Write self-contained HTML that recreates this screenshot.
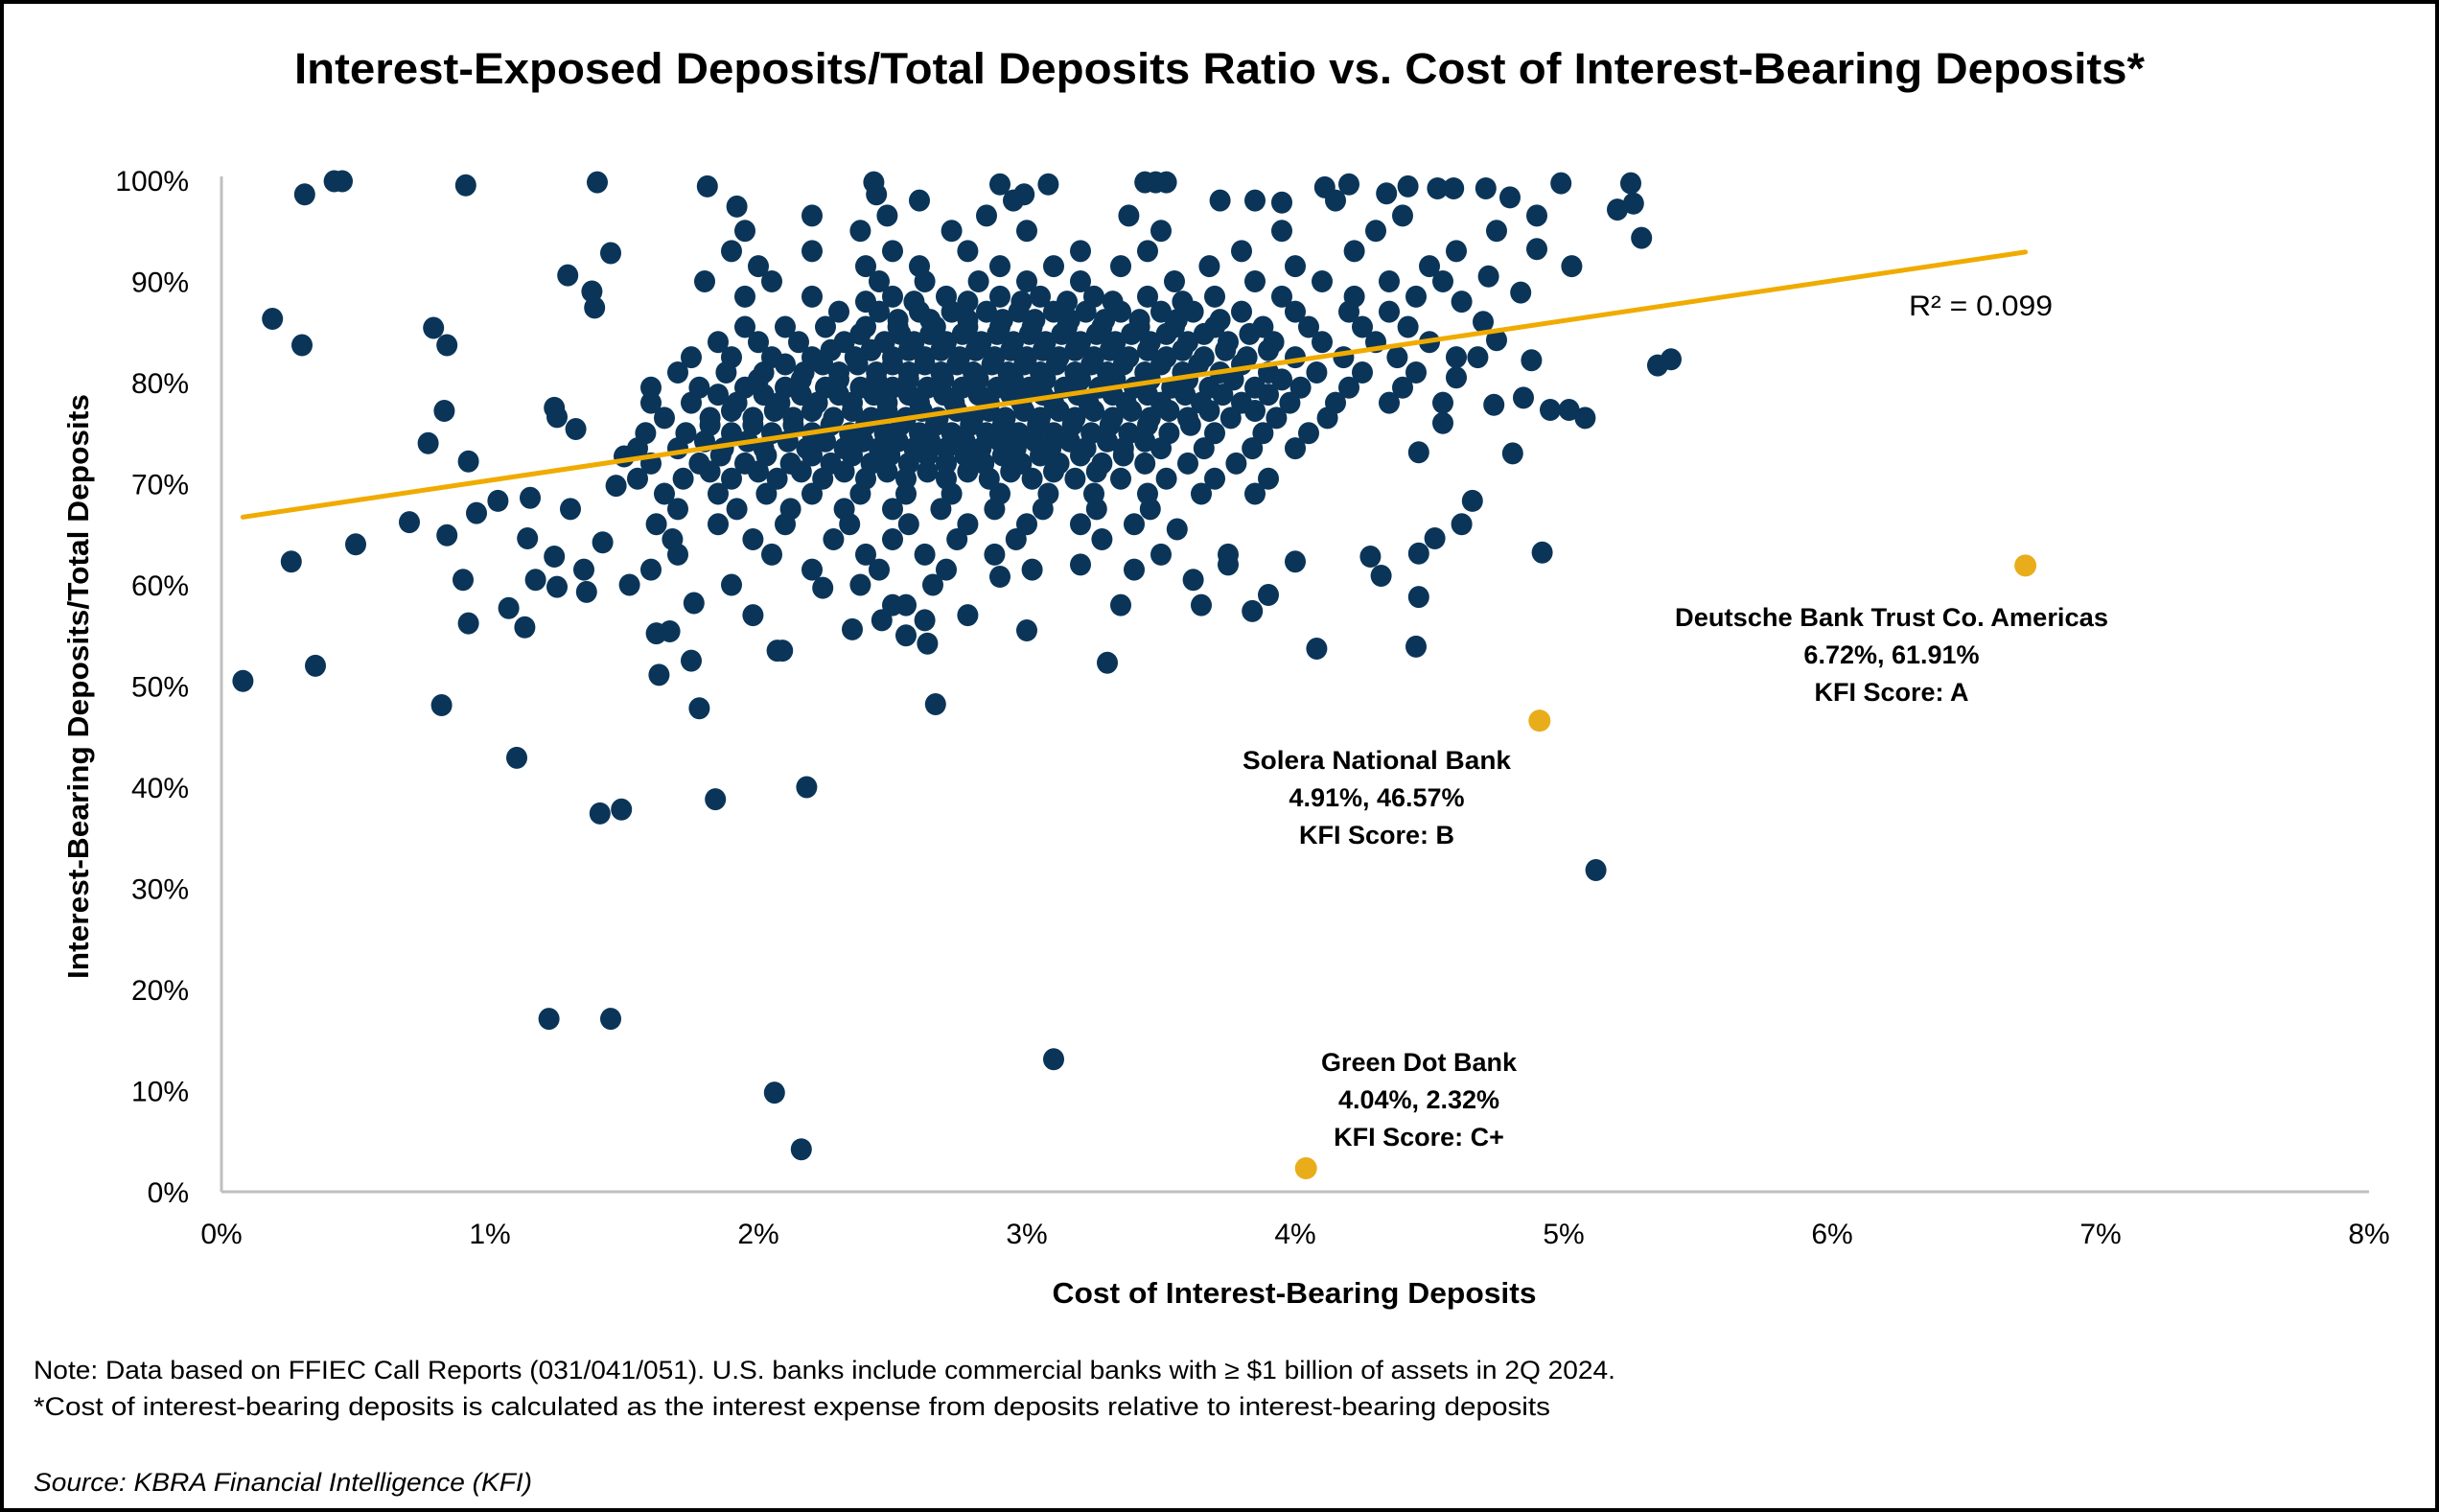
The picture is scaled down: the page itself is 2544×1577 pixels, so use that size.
<!DOCTYPE html>
<html><head><meta charset="utf-8">
<style>
html,body{margin:0;padding:0;background:#fff;}
svg{display:block;font-family:"Liberation Sans",sans-serif;}
</style></head>
<body>
<svg id="chart" width="2544" height="1577" viewBox="0 0 2544 1577" xmlns="http://www.w3.org/2000/svg">
<rect x="2" y="2" width="2540" height="1573" fill="#fff" stroke="#000" stroke-width="4"/>
<text x="1272" y="87" text-anchor="middle" font-size="45" font-weight="bold" textLength="1930" lengthAdjust="spacingAndGlyphs">Interest-Exposed Deposits/Total Deposits Ratio vs. Cost of Interest-Bearing Deposits*</text>
<g id="axes"></g>
<g id="dots"></g>
<g id="trend"></g>
<g id="hl"></g>
<text x="1991" y="329" font-size="30" textLength="150" lengthAdjust="spacingAndGlyphs">R² = 0.099</text>
<g font-size="27" font-weight="bold" text-anchor="middle">
<text x="1973" y="653" textLength="452" lengthAdjust="spacingAndGlyphs">Deutsche Bank Trust Co. Americas</text>
<text x="1973" y="692">6.72%, 61.91%</text>
<text x="1973" y="731">KFI Score: A</text>
</g>
<g font-size="27" font-weight="bold" text-anchor="middle">
<text x="1436" y="802" textLength="280" lengthAdjust="spacingAndGlyphs">Solera National Bank</text>
<text x="1436" y="841">4.91%, 46.57%</text>
<text x="1436" y="880">KFI Score: B</text>
</g>
<g font-size="27" font-weight="bold" text-anchor="middle">
<text x="1480" y="1117">Green Dot Bank</text>
<text x="1480" y="1156">4.04%, 2.32%</text>
<text x="1480" y="1195">KFI Score: C+</text>
</g>
<text x="1350" y="1359" text-anchor="middle" font-size="31" font-weight="bold" textLength="505" lengthAdjust="spacingAndGlyphs">Cost of Interest-Bearing Deposits</text>
<text transform="translate(92,716) rotate(-90)" text-anchor="middle" font-size="31" font-weight="bold" textLength="610" lengthAdjust="spacingAndGlyphs">Interest-Bearing Deposits/Total Deposits</text>
<text x="35" y="1438" font-size="27" textLength="1650" lengthAdjust="spacingAndGlyphs">Note: Data based on FFIEC Call Reports (031/041/051).  U.S. banks include commercial banks with ≥ $1 billion of assets in 2Q 2024.</text>
<text x="35" y="1476" font-size="27" textLength="1582" lengthAdjust="spacingAndGlyphs">*Cost of interest-bearing deposits is calculated as the interest expense from deposits relative to interest-bearing deposits</text>
<text x="35" y="1555" font-size="27" font-style="italic" textLength="520" lengthAdjust="spacingAndGlyphs">Source: KBRA Financial Intelligence (KFI)</text>
</svg>
<script>
const xTicks=[0,1,2,3,4,5,6,7,8];
const yTicks=[0,10,20,30,40,50,60,70,80,90,100];
const trendX=[0.08,6.72];
const trendY=[66.7,92.9];
const highlighted=[[6.72,61.91],[4.91,46.57],[4.04,2.32]];
const outliers=[[0.08,50.5],[0.19,86.3],[0.3,83.7],[0.31,98.6],[0.26,62.3],[0.35,52],[0.42,99.9],[0.45,99.9],[0.5,64],[0.7,66.2],[0.77,74],[0.79,85.4],[0.82,48.1],[0.83,77.2],[0.84,83.7],[0.84,64.9],[0.9,60.5],[0.92,56.2],[0.91,99.5],[0.92,72.2],[0.95,67.1],[1.03,68.3],[1.07,57.7],[1.1,42.9],[1.13,55.8],[1.14,64.6],[1.15,68.6],[1.17,60.5],[1.22,17.1],[1.24,62.8],[1.24,77.5],[1.25,76.6],[1.25,59.8],[1.29,90.6],[1.32,75.4],[1.4,99.8],[1.38,89],[1.39,87.4],[1.41,37.4],[1.45,17.1],[1.45,92.8],[1.49,37.8],[1.35,61.5],[1.3,67.5],[1.42,64.2],[1.47,69.8],[1.5,72.7],[1.36,59.3],[1.62,55.2],[1.63,51.1],[1.67,55.4],[1.75,52.5],[1.78,47.8],[1.76,58.2],[1.81,99.4],[1.84,38.8],[1.92,97.4],[2.06,9.8],[2.07,53.5],[2.09,53.5],[2.16,4.2],[2.18,40],[2.2,96.5],[2.24,59.7],[2.66,48.2],[2.63,54.2],[3.1,13.1],[3.3,52.3],[3.84,57.4],[4.0,62.3],[4.08,53.7],[4.28,62.8],[4.32,60.9],[4.45,53.9],[4.46,58.8],[4.46,63.1],[4.46,73.1],[4.52,64.6],[4.62,66],[4.66,68.3],[4.74,77.8],[4.81,73],[4.85,78.5],[4.88,82.2],[4.92,63.2],[4.95,77.3],[5.02,77.3],[5.08,76.5],[5.12,31.8],[5.03,91.5],[5.25,99.7],[5.29,94.3],[5.26,97.7],[5.2,97.1],[4.99,99.7],[5.35,81.7],[5.4,82.3],[4.84,88.9],[4.9,93.2],[2.43,99.8],[2.44,98.6],[2.9,99.6],[2.99,98.6],[3.08,99.6],[3.44,99.8],[3.48,99.8],[3.52,99.8],[3.85,98],[3.95,97.8],[4.11,99.3],[4.2,99.6],[4.34,98.7],[4.42,99.4],[4.53,99.2],[4.59,99.2],[4.71,99.2],[4.8,98.3],[3.75,62],[3.9,59],[3.56,65.5],[3.62,60.5],[3.2,62],[3.35,58],[2.9,60.8],[3.0,55.5],[2.78,57],[2.35,55.6],[2.55,55],[1.98,57],[4.7,86],[4.75,84.2],[4.6,80.5],[4.68,82.5],[4.55,76],[4.62,88],[4.72,90.5]];
const cluster=[
[87,[2.3,2.45,2.6,2.72,2.85,2.97,3.1,3.22,3.35,3.5,3.62,3.8,4.0,4.2,4.35]],
[85.5,[1.95,2.1,2.25,2.4,2.52,2.66,2.78,2.9,3.02,3.15,3.28,3.42,3.55,3.7,3.88,4.05,4.25,4.42]],
[84,[1.85,2.0,2.15,2.32,2.47,2.58,2.7,2.83,2.95,3.07,3.2,3.33,3.46,3.6,3.75,3.92,4.1,4.3,4.5]],
[82.5,[1.75,1.9,2.05,2.2,2.36,2.5,2.62,2.75,2.88,3.0,3.12,3.25,3.38,3.52,3.66,3.82,4.0,4.18,4.38,4.6]],
[81,[1.7,1.88,2.02,2.17,2.3,2.44,2.56,2.68,2.8,2.93,3.05,3.18,3.3,3.44,3.58,3.72,3.9,4.08,4.25,4.45]],
[79.5,[1.6,1.78,1.95,2.1,2.25,2.38,2.5,2.63,2.76,2.89,3.01,3.14,3.27,3.4,3.54,3.68,3.85,4.02,4.2,4.4]],
[78,[1.6,1.75,1.92,2.08,2.22,2.35,2.48,2.6,2.73,2.86,2.98,3.1,3.23,3.37,3.5,3.65,3.8,3.98,4.15,4.35,4.55]],
[76.5,[1.65,1.82,1.98,2.13,2.28,2.42,2.55,2.67,2.8,2.92,3.05,3.18,3.32,3.46,3.6,3.76,3.93,4.12]],
[75,[1.58,1.73,1.9,2.05,2.2,2.34,2.47,2.6,2.72,2.85,2.97,3.1,3.24,3.38,3.53,3.7,3.88,4.05]],
[73.5,[1.55,1.7,1.87,2.02,2.18,2.32,2.45,2.58,2.7,2.83,2.96,3.09,3.22,3.36,3.5,3.66,3.84,4.0]],
[72,[1.6,1.78,1.95,2.12,2.27,2.42,2.56,2.7,2.84,2.98,3.12,3.28,3.44,3.6,3.78]],
[70.5,[1.55,1.72,1.9,2.07,2.24,2.4,2.55,2.7,2.86,3.02,3.18,3.35,3.52,3.7,3.9]],
[69,[1.65,1.85,2.03,2.2,2.38,2.55,2.72,2.9,3.08,3.25,3.45,3.65,3.85]],
[67.5,[1.7,1.92,2.12,2.32,2.5,2.68,2.88,3.06,3.26,3.46]],
[66,[1.62,1.85,2.1,2.34,2.56,2.78,3.0,3.2,3.4]],
[64.5,[1.68,1.98,2.28,2.5,2.74,2.96,3.28]],
[63,[1.7,2.05,2.4,2.62,2.88,3.5,3.75]],
[61.5,[1.6,2.2,2.45,2.7,3.02,3.4]],
[60,[1.52,1.9,2.38,2.65]],
[58,[2.5,2.55,3.65]],
[56.5,[2.46,2.62]],
[88.5,[1.95,2.2,2.5,2.7,2.9,3.05,3.25,3.45,3.7,3.95,4.22,4.45]],
[90,[1.8,2.05,2.45,2.62,2.82,3.0,3.2,3.55,3.85,4.1,4.35,4.55]],
[91.5,[2.0,2.4,2.6,2.9,3.1,3.35,3.68,4.0,4.5]],
[93,[1.9,2.2,2.5,2.78,3.2,3.45,3.8,4.22,4.6]],
[95,[1.95,2.38,2.72,3.0,3.5,3.95,4.3,4.75]],
[96.5,[2.48,2.85,3.38,4.4,4.9]],
[98,[2.6,2.95,3.72,4.15]]
];
const core=[
[86.2,[2.52,2.64,2.78,2.91,3.03,3.16,3.29,3.42,3.56,3.72]],
[84.8,[2.38,2.53,2.64,2.76,2.89,3.01,3.13,3.26,3.39,3.52,3.66,3.83]],
[83.2,[2.27,2.42,2.56,2.68,2.81,2.94,3.06,3.18,3.31,3.45,3.58,3.74,3.9]],
[81.8,[2.1,2.24,2.37,2.5,2.62,2.74,2.87,2.99,3.11,3.24,3.36,3.5,3.64,3.8]],
[80.3,[2.0,2.16,2.3,2.44,2.56,2.69,2.82,2.95,3.07,3.2,3.33,3.46,3.6,3.77,3.95]],
[78.8,[1.85,2.02,2.16,2.3,2.43,2.56,2.69,2.82,2.94,3.06,3.19,3.32,3.45,3.59,3.73,3.9]],
[77.2,[1.9,2.06,2.2,2.35,2.48,2.61,2.74,2.86,2.99,3.12,3.25,3.39,3.53,3.68,3.85]],
[75.8,[1.82,1.98,2.13,2.27,2.4,2.53,2.66,2.79,2.91,3.04,3.17,3.31,3.45,3.61]],
[74.2,[1.8,1.96,2.11,2.25,2.39,2.52,2.64,2.77,2.9,3.03,3.16,3.3,3.44]],
[72.8,[1.86,2.03,2.2,2.35,2.49,2.63,2.77,2.91,3.05,3.2,3.36]],
[71.2,[1.82,2.0,2.16,2.32,2.48,2.63,2.78,2.94,3.1,3.26]],
[88,[2.4,2.58,2.78,2.98,3.15,3.32,3.58]]
];
const NS="http://www.w3.org/2000/svg";
const X0=231,X1=2471,Y0=1243,Y1=188;
function sx(v){return X0+(v-0)/(8-0)*(X1-X0);}
function sy(v){return Y0-(v-0)/(100-0)*(Y0-Y1);}
function mk(tag,attrs,parent){const e=document.createElementNS(NS,tag);for(const k in attrs)e.setAttribute(k,attrs[k]);parent.appendChild(e);return e;}
const axes=document.getElementById('axes');
let l=mk('line',{x1:X0,y1:Y1-4,x2:X0,y2:Y0,stroke:'#bfbfbf','stroke-width':3},axes);


l=mk('line',{x1:X0,y1:Y0,x2:X1,y2:Y0,stroke:'#bfbfbf','stroke-width':3},axes);


xTicks.forEach(t=>{const e=mk('text',{x:sx(t),y:Y0+54,'text-anchor':'middle','font-size':30},axes);e.textContent=t+'%';

});
yTicks.forEach(t=>{const e=mk('text',{x:197,y:sy(t)+11,'text-anchor':'end','font-size':30},axes);e.textContent=t+'%';

});
const dots=document.getElementById('dots');
const pts=outliers.slice();
cluster.forEach(r=>r[1].forEach(x=>pts.push([x,r[0]])));
core.forEach(r=>r[1].forEach(x=>pts.push([x,r[0]])));
pts.forEach(p=>{const c=mk('ellipse',{cx:sx(p[0]),cy:sy(p[1]),rx:11,ry:11.5,fill:'#0b3558'},dots);

});
const tr=mk('line',{x1:sx(trendX[0]),y1:sy(trendY[0]),x2:sx(trendX[1]),y2:sy(trendY[1]),stroke:'#f0ab00','stroke-width':5,'stroke-linecap':'round'},document.getElementById('trend'));


highlighted.forEach(p=>{const c=mk('ellipse',{cx:sx(p[0]),cy:sy(p[1]),rx:11.5,ry:11.5,fill:'#e9ad1b'},document.getElementById('hl'));

});
</script>
</body></html>
